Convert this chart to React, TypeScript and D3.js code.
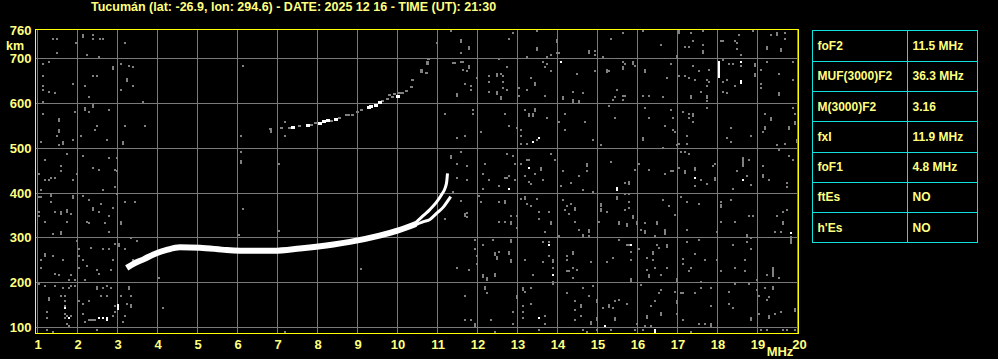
import React from "react";
import * as d3 from "d3";

// ---------- data ----------
const freqTicks = [1, 2, 3, 4, 5, 6, 7, 8, 9, 10, 11, 12, 13, 14, 15, 16, 17, 18, 19, 20];
const heightGrid = [100, 200, 300, 400, 500, 600, 700];
const heightLabels = [760, 700, 600, 500, 400, 300, 200, 100];

const titleText = "Tucumán (lat: -26.9, lon: 294.6) - DATE: 2025 12 16 - TIME (UT): 21:30";

const paramNames = ["foF2", "MUF(3000)F2", "M(3000)F2", "fxI", "foF1", "ftEs", "h'Es"];
const paramValues = ["11.5 MHz", "36.3 MHz", "3.16", "11.9 MHz", "4.8 MHz", "NO", "NO"];

// main F trace (MHz, km)
const mainTrace: [number, number][] = [
  [3.23, 233], [3.4, 242], [3.65, 252], [3.9, 263], [4.23, 273], [4.56, 279], [5.06, 278],
  [5.73, 273], [6.31, 271], [6.9, 271], [7.56, 276], [8.4, 285], [8.81, 291], [9.55, 305],
  [10.0, 316], [10.46, 331],
];
const oTrace: [number, number][] = [
  [10.4, 329], [10.65, 350], [10.81, 363], [10.98, 380], [11.1, 396], [11.19, 411], [11.23, 425], [11.25, 444],
];
const xTrace: [number, number][] = [
  [10.4, 327], [10.65, 336], [10.81, 341], [10.98, 355], [11.15, 369], [11.27, 384], [11.33, 392],
];

// multi-hop trace echoes
const upperGray: number[][] = [
  [6.82, 543], [7.09, 546], [7.3, 546], [7.55, 550], [7.84, 552], [7.96, 555], [8.34, 561], [8.55, 567],
  [8.72, 574], [8.78, 574], [8.88, 575], [9.0, 581], [9.09, 584], [9.63, 605], [9.75, 610], [9.8, 619],
  [9.88, 613], [9.92, 621], [10.05, 623], [10.13, 622], [10.23, 628], [10.34, 636], [10.38, 651],
  [10.59, 671, 9], [10.74, 689, 9], [10.73, 668], [10.78, 699],
];
const upperWhite: number[][] = [
  [7.38, 546], [7.75, 552], [8.05, 556], [8.15, 559], [8.25, 561], [8.46, 565], [9.28, 590], [9.34, 593],
  [9.45, 596], [9.55, 602], [10.0, 616],
];

// scattered echoes (MHz, km, optional span km)
const noiseGray: number[][] = [
  [1.38, 743], [1.48, 743], [2.13, 750, 9], [2.38, 752], [2.38, 743], [2.55, 743], [2.63, 743], [1.95, 735], [3.18, 735], [1.48, 712], [2.23, 708], [2.53, 703],
  [1.13, 688], [1.28, 693], [1.13, 662], [1.13, 639], [1.13, 630], [1.28, 626], [1.43, 622], [1.13, 604], [1.88, 644], [2.18, 639], [2.38, 662], [2.48, 662], [2.28, 613], [2.88, 678, 9], [3.08, 688], [3.28, 684], [3.38, 680], [3.23, 651, 9], [3.38, 639], [3.08, 630], [3.63, 604],
  [1.13, 577], [1.53, 562, 9], [1.53, 539, 9], [1.48, 528], [1.63, 512, 9], [1.53, 506], [1.08, 514], [1.93, 581], [1.88, 519], [2.08, 528], [2.18, 588, 9], [2.28, 581], [2.38, 593, 9], [2.48, 550], [2.43, 541], [2.78, 586], [2.73, 519], [3.18, 550], [3.68, 550], [3.13, 512, 9],
  [1.18, 474], [1.73, 488], [1.58, 461], [1.58, 448], [1.43, 434], [1.33, 434], [1.18, 430], [1.28, 430], [1.03, 443], [1.08, 407], [1.88, 430], [1.98, 443], [2.13, 483], [2.38, 456], [2.53, 452], [2.78, 479], [2.98, 479], [2.93, 452], [2.98, 448], [2.63, 407], [2.93, 413],
  [1.33, 396, 9], [1.03, 390], [1.08, 390], [1.33, 381], [1.03, 358], [1.03, 349], [1.18, 336], [1.43, 358], [1.58, 356, 9], [1.73, 360, 9], [1.83, 354], [1.73, 336], [1.38, 309], [1.58, 311, 9], [1.88, 392, 9], [2.13, 394], [2.28, 385], [2.38, 365, 9], [2.58, 376], [2.53, 358], [2.88, 367], [2.78, 349], [2.23, 336], [2.28, 332], [2.68, 332], [2.78, 314], [2.98, 398], [3.08, 334, 9], [3.18, 379], [3.43, 381], [3.33, 300], [3.48, 294],
  [1.18, 262, 9], [1.08, 251], [1.38, 260], [1.63, 251], [1.08, 233], [1.43, 220], [1.53, 216], [1.83, 216], [1.78, 207], [1.93, 207], [2.03, 274], [2.03, 260], [2.13, 251], [2.03, 233], [2.23, 238], [2.18, 207], [2.33, 278], [2.48, 229], [2.53, 220], [2.63, 274], [2.78, 274], [2.83, 229], [2.88, 251], [2.93, 287], [3.03, 285, 9], [3.18, 274], [3.38, 251], [4.03, 211], [1.98, 293],
  [1.03, 198], [1.18, 193], [1.43, 193], [1.63, 189], [1.58, 171], [1.68, 171], [1.78, 189], [1.83, 193], [1.93, 193], [1.28, 164, 9], [1.68, 158], [1.68, 149], [1.23, 135], [1.68, 131], [1.73, 126], [1.68, 122], [1.23, 122], [1.73, 108], [1.78, 104], [1.83, 126], [2.03, 158], [2.13, 153], [2.13, 131], [2.28, 158], [2.48, 187, 9], [2.63, 189], [2.73, 193], [2.58, 171], [2.73, 171], [2.83, 189], [2.93, 149], [2.93, 135], [2.88, 126], [2.18, 113], [2.48, 95], [3.08, 171], [3.28, 187, 9], [3.33, 171], [3.23, 153], [3.33, 147, 9], [3.18, 126], [3.13, 113], [4.13, 144], [1.23, 95], [1.38, 91],
  [2.28, 117], [2.33, 117], [2.38, 117], [2.43, 117],
  [6.13, 684], [6.08, 528], [6.08, 492], [6.08, 470, 9], [7.03, 465], [6.13, 364], [6.03, 306], [7.03, 316], [9.08, 231], [7.18, 91], [10.98, 735], [6.83, 539, 9], [7.18, 559], [7.18, 528],
  [11.58, 383], [11.73, 355], [11.73, 346], [11.19, 343],
  [11.33, 761], [11.58, 738, 9], [11.78, 724, 9], [11.58, 712], [12.88, 757], [12.78, 743], [13.48, 761], [13.48, 722, 9], [13.98, 738, 9], [13.98, 712], [14.03, 712], [13.83, 708], [13.73, 703], [13.23, 703], [12.53, 699], [14.78, 715, 9], [14.93, 717], [14.93, 708], [15.13, 703], [15.33, 743],
  [11.38, 691], [11.43, 691], [11.58, 693], [11.63, 693], [11.78, 681, 9], [11.63, 675], [11.73, 671], [11.98, 657], [11.68, 644], [11.83, 639], [11.83, 630], [11.48, 618, 9], [12.28, 662], [12.48, 664, 9], [12.58, 666], [12.63, 662], [12.73, 680], [12.63, 648], [12.28, 648], [12.28, 626], [12.48, 624, 9], [12.58, 612, 9], [12.63, 635], [12.73, 630], [13.03, 635], [13.03, 617], [13.33, 657], [13.43, 642, 9], [13.23, 630], [13.68, 617], [13.63, 693], [13.73, 688], [13.68, 680], [13.83, 671], [14.48, 666], [14.38, 626], [14.63, 622], [14.13, 611, 9], [14.38, 606, 9], [14.53, 604, 9], [14.93, 671], [15.23, 673, 9], [15.28, 671], [15.48, 630], [15.43, 613], [15.38, 608],
  [11.18, 577], [11.88, 586], [11.88, 577], [11.48, 523], [11.68, 528], [12.08, 537], [12.68, 577], [12.78, 550], [12.98, 546], [13.08, 541], [13.08, 528], [13.08, 510], [13.18, 586], [13.28, 575, 9], [13.38, 575, 9], [13.43, 584, 9], [13.73, 568], [13.23, 510], [13.48, 519], [14.03, 559], [14.18, 577], [14.18, 541], [14.68, 559], [14.88, 519], [15.28, 595], [15.43, 568], [15.08, 506],
  [11.33, 481, 9], [11.58, 492], [11.48, 465], [11.73, 461], [11.48, 434], [11.73, 428], [11.38, 403], [12.18, 465], [12.13, 443], [12.28, 430], [12.73, 488], [12.88, 483], [12.93, 465], [12.78, 439], [12.68, 434], [12.73, 434], [12.53, 416], [12.13, 409], [12.93, 430], [13.23, 474], [13.28, 474], [13.08, 465], [13.18, 439], [13.43, 443], [13.58, 454, 9], [13.28, 425], [13.33, 421], [13.63, 430], [13.83, 488], [13.93, 474], [14.13, 448], [14.33, 422], [14.08, 416], [14.53, 439], [14.73, 463, 9], [14.73, 448], [14.63, 407], [14.88, 403], [15.33, 470],
  [12.03, 394], [12.08, 381], [12.53, 381], [12.68, 379, 9], [13.08, 387], [13.18, 388, 9], [13.23, 376], [13.33, 372], [13.48, 387], [12.98, 349], [12.83, 349], [12.83, 334, 9], [12.53, 336], [12.68, 336], [12.98, 323], [11.68, 354], [11.68, 349], [11.58, 382], [13.53, 358], [13.53, 341], [13.78, 358], [13.83, 334, 9], [13.68, 314], [14.03, 305], [14.13, 385], [14.23, 372], [14.33, 376], [14.43, 365, 9], [14.18, 363], [14.28, 354], [14.43, 336], [14.53, 318], [14.63, 303, 9], [14.78, 316, 9], [14.78, 305], [15.03, 336], [15.08, 374, 9], [15.08, 361, 9], [15.23, 358], [15.53, 334, 9], [15.48, 388, 9],
  [11.93, 296], [11.93, 274], [11.98, 260], [11.98, 242], [11.78, 229], [11.48, 233], [12.13, 283], [12.13, 214, 9], [12.23, 209, 9], [12.38, 296], [12.43, 263, 9], [12.48, 254, 9], [12.53, 269], [12.43, 218, 9], [12.83, 294, 9], [12.78, 267, 9], [12.83, 249, 9], [13.18, 251], [13.38, 216], [13.63, 291], [13.78, 291], [13.78, 260], [13.63, 247], [13.88, 249, 9], [13.88, 233], [13.88, 199, 9], [14.38, 267, 9], [14.23, 260], [14.23, 251], [14.23, 225], [14.28, 225], [14.38, 233], [14.48, 229], [14.38, 211], [14.83, 247], [15.23, 247], [15.38, 256], [15.53, 296],
  [12.18, 187, 9], [12.23, 176], [11.68, 171], [11.93, 106, 9], [11.68, 117], [11.83, 117], [12.33, 117], [12.43, 91], [12.88, 135], [12.88, 108], [12.98, 169, 9], [13.13, 185, 9], [13.18, 180], [13.13, 149], [13.13, 135], [13.13, 122], [13.33, 153], [13.33, 189], [13.68, 126], [13.68, 108], [13.53, 95], [14.23, 176], [14.43, 158], [14.43, 140], [14.43, 117], [14.58, 147, 9], [14.58, 126], [14.63, 189], [14.78, 171], [14.88, 193], [14.98, 160, 9], [14.83, 111, 9], [14.98, 120, 9], [15.13, 144], [15.28, 147, 9], [15.38, 144], [15.43, 158], [15.43, 120, 9], [15.53, 162], [14.73, 91], [14.63, 95], [14.98, 95], [15.33, 95],
  [15.63, 757], [16.13, 761], [16.58, 730], [17.03, 759, 9], [16.98, 704, 9], [17.18, 726], [17.28, 726], [17.38, 739], [17.63, 730], [17.63, 715, 9], [17.33, 757], [17.63, 761], [18.08, 739], [18.13, 739], [18.43, 739], [18.48, 735], [18.53, 752], [18.48, 721], [18.58, 708], [18.88, 761], [19.23, 724, 9], [19.33, 752], [19.48, 755, 9], [19.58, 719, 9], [19.68, 757], [19.68, 743],
  [15.63, 693], [15.68, 688], [15.88, 691, 9], [15.93, 684], [15.63, 678, 9], [16.18, 673, 9], [16.73, 657], [16.83, 688], [16.63, 613], [16.13, 617], [16.28, 617], [15.63, 617], [15.68, 617], [15.63, 608], [17.03, 662], [17.18, 662], [17.28, 657], [17.38, 684], [17.43, 653], [17.53, 671], [17.73, 651], [17.78, 648], [17.73, 639], [17.73, 615, 9], [17.73, 606], [17.33, 613, 9], [17.78, 675], [17.58, 626], [18.13, 697], [18.28, 688], [18.38, 688], [18.58, 684], [18.43, 639], [18.23, 653], [18.13, 648], [18.13, 626], [18.23, 622], [18.93, 686, 9], [18.93, 664, 9], [19.08, 675], [19.08, 644], [19.08, 635], [19.23, 693], [19.53, 666], [19.53, 620, 9], [19.88, 693], [19.88, 653],
  [16.18, 590], [16.28, 568], [16.13, 521, 9], [16.68, 550], [16.83, 586], [16.88, 568], [16.88, 541], [16.93, 537], [16.98, 506], [17.13, 581], [17.28, 577], [17.28, 568], [17.38, 575, 9], [17.38, 559], [17.23, 528], [17.03, 510], [17.23, 510], [17.73, 590], [18.33, 546], [18.23, 523], [18.33, 514], [18.83, 528], [19.18, 577], [19.33, 566, 9], [19.18, 544, 9], [19.13, 537], [19.48, 506], [19.68, 510], [19.78, 544, 9], [19.88, 590], [19.93, 577], [19.93, 557, 9], [19.98, 517, 9],
  [16.03, 465], [15.68, 422], [15.78, 423, 9], [15.93, 452], [16.28, 452], [16.68, 443], [16.83, 448], [16.88, 448], [16.63, 501], [17.08, 492], [17.18, 492], [17.28, 488], [17.03, 456], [17.18, 446, 9], [17.43, 454, 9], [17.58, 430], [17.43, 416], [17.73, 421], [17.93, 465], [17.88, 461], [17.93, 432, 9], [18.48, 448], [18.63, 470, 22], [18.73, 439], [18.83, 418], [18.78, 474], [18.38, 409], [19.13, 461], [19.13, 437, 9], [19.28, 430], [19.53, 497], [19.78, 483], [19.88, 474], [19.73, 422], [19.73, 413],
  [15.68, 398], [15.78, 398], [15.78, 380], [15.78, 367], [15.68, 363], [15.88, 347, 9], [15.73, 328, 9], [15.98, 334, 9], [16.08, 318], [16.18, 334], [16.18, 312, 9], [16.48, 332, 9], [16.43, 305], [16.68, 313, 13], [16.63, 385], [16.78, 370], [16.93, 352], [17.08, 390], [17.23, 381], [17.53, 376], [17.23, 318], [17.98, 314], [18.08, 381], [18.08, 370, 9], [18.33, 385], [18.08, 336], [18.43, 336], [18.78, 349], [18.88, 349], [18.73, 303, 9], [18.83, 300], [19.48, 349], [19.43, 314], [19.63, 358], [19.58, 314], [19.63, 334, 9], [19.73, 363], [19.83, 295, 18],
  [15.73, 285], [15.78, 285], [15.83, 269], [15.83, 251], [15.83, 205, 9], [16.03, 274], [16.23, 256], [16.23, 229], [16.28, 214, 9], [16.38, 267, 9], [16.38, 251], [16.43, 233], [16.48, 285], [16.53, 278], [16.73, 281, 9], [16.58, 216], [16.73, 233], [16.98, 205, 9], [17.13, 253], [17.13, 242], [17.23, 290], [17.28, 225], [17.33, 233], [17.53, 296], [17.43, 265], [17.68, 251], [17.58, 201], [17.98, 251], [18.08, 225], [18.38, 283], [18.43, 233], [18.68, 225], [18.68, 251], [18.73, 290], [18.83, 274], [18.98, 207], [19.23, 216], [19.38, 225, 22], [19.53, 211],
  [15.73, 153], [16.08, 195], [16.23, 124, 9], [16.33, 149], [16.43, 158], [16.58, 184], [16.58, 129, 9], [16.53, 176], [16.93, 180], [16.98, 156, 9], [16.98, 131], [17.08, 176], [17.13, 176], [17.13, 117], [17.43, 176], [17.58, 189], [17.68, 108], [17.83, 189], [17.83, 149], [17.83, 106, 9], [18.28, 180], [18.28, 153], [18.38, 144], [18.43, 196], [18.78, 196], [18.83, 120, 9], [18.98, 184], [19.03, 171], [19.03, 131], [19.18, 189], [19.23, 162], [19.28, 167], [19.28, 124, 9], [19.38, 187, 9], [19.43, 131], [19.58, 135], [19.93, 138, 9], [15.98, 108], [16.18, 104], [16.33, 104], [15.93, 95], [16.13, 95], [17.33, 91], [17.53, 108], [19.08, 95], [19.23, 95], [19.63, 95], [19.73, 95], [19.93, 95],
];
const noiseWhite: number[][] = [
  [18.03, 674, 39], [18.58, 693], [18.58, 648, 9], [14.08, 693], [13.38, 513], [13.53, 523], [13.28, 456], [12.78, 409],
  [15.48, 409, 9], [13.78, 283], [13.88, 216], [13.53, 122], [15.18, 104], [17.43, 434], [18.63, 430], [19.83, 311],
  [15.83, 285], [16.43, 92, 9], [1.68, 144], [1.78, 122], [2.53, 122], [2.63, 122], [2.73, 120, 9], [3.01, 146, 13],
];

// ---------- layout ----------
const W = 998;
const H = 359;
const FRAME = { left: 35.5, top: 29.5, right: 798.5, bottom: 333.5 };
const TABLE = { left: 812.5, mid: 907.5, right: 977.5, top: 30.5, row: 30.25 };
const YELLOW = "#ffff00";
const TEXT = "#ffff80";
const GRID = "#7a7a7a";
const CYAN = "#10e0e0";
const FONT = "'Liberation Sans', Arial, sans-serif";

const xs = d3.scaleLinear().domain([1, 20]).range([37.5, 797.5]);
const ys = d3.scaleLinear().domain([100, 700]).range([327.5, 58.5]);

function Dots({ data, fill, w, defSpan }: { data: number[][]; fill: string; w: number; defSpan: number }) {
  return (
    <g fill={fill} shapeRendering="crispEdges">
      {data.map((d, i) => {
        const span = d[2] ?? defSpan;
        const y0 = ys(d[1] + span / 2);
        const y1 = ys(d[1] - span / 2);
        return <rect key={i} x={Math.round(xs(d[0]) - w / 2)} y={Math.round(y0)} width={w} height={Math.max(2, Math.round(y1 - y0))} />;
      })}
    </g>
  );
}

export default function App() {
  const line = d3
    .line<[number, number]>()
    .x((d) => xs(d[0]))
    .y((d) => ys(d[1]))
    .curve(d3.curveMonotoneX);

  return (
    <svg
      width={W}
      height={H}
      style={{ position: "absolute", left: 0, top: 0, background: "#000", display: "block" }}
      fontFamily={FONT}
      fontWeight="bold"
    >
      <rect x={0} y={0} width={W} height={H} fill="#000" />
      <text x={91} y={10.5} fill={TEXT} fontSize={12.5}>
        {titleText}
      </text>

      {/* grid */}
      <g stroke={GRID} strokeWidth={1} shapeRendering="crispEdges">
        {freqTicks.map((f) => (
          <line key={"v" + f} x1={xs(f)} x2={xs(f)} y1={FRAME.top} y2={FRAME.bottom} />
        ))}
        {heightGrid.map((h) => (
          <line key={"h" + h} x1={FRAME.left} x2={FRAME.right} y1={ys(h)} y2={ys(h)} />
        ))}
      </g>

      {/* echoes */}
      <Dots data={noiseGray} fill="#808080" w={2} defSpan={4.5} />
      <Dots data={noiseWhite} fill="#ffffff" w={2} defSpan={4.5} />
      <Dots data={upperGray} fill="#808080" w={3} defSpan={4.5} />
      <Dots data={upperWhite} fill="#ffffff" w={4} defSpan={6} />

      <path d={line(mainTrace) ?? ""} fill="none" stroke="#fff" strokeWidth={6} />
      <path d={line(oTrace) ?? ""} fill="none" stroke="#fff" strokeWidth={3} />
      <path d={line(xTrace) ?? ""} fill="none" stroke="#fff" strokeWidth={3} />

      {/* frame */}
      <rect
        x={FRAME.left}
        y={FRAME.top}
        width={FRAME.right - FRAME.left}
        height={FRAME.bottom - FRAME.top}
        fill="none"
        stroke={YELLOW}
        strokeWidth={1}
        shapeRendering="crispEdges"
      />

      {/* x labels */}
      <g fill={TEXT} fontSize={13} textAnchor="middle">
        {freqTicks.map((f) => (
          <text key={"xl" + f} x={xs(f) + (f === 20 ? 2 : 0.5)} y={349}>
            {f}
          </text>
        ))}
        <text x={780} y={356}>
          MHz
        </text>
      </g>

      {/* y labels */}
      <g fill={TEXT} fontSize={13} textAnchor="end">
        {heightLabels.map((h) => (
          <text key={"yl" + h} x={31.5} y={h === 760 ? 35 : ys(h) + 4.6}>
            {h}
          </text>
        ))}
      </g>
      <text x={6} y={50} fill={TEXT} fontSize={12.5}>
        km
      </text>

      {/* parameter table */}
      <g stroke={CYAN} strokeWidth={1} shapeRendering="crispEdges" fill="none">
        <rect
          x={TABLE.left}
          y={TABLE.top}
          width={TABLE.right - TABLE.left}
          height={TABLE.row * paramNames.length}
        />
        <line x1={TABLE.mid} x2={TABLE.mid} y1={TABLE.top} y2={TABLE.top + TABLE.row * paramNames.length} />
        {paramNames.slice(1).map((_, i) => (
          <line
            key={"r" + i}
            x1={TABLE.left}
            x2={TABLE.right}
            y1={Math.round(TABLE.top + TABLE.row * (i + 1)) + 0.5}
            y2={Math.round(TABLE.top + TABLE.row * (i + 1)) + 0.5}
          />
        ))}
      </g>
      <g fill={TEXT} fontSize={12}>
        {paramNames.map((n, i) => (
          <text key={"pn" + i} x={817.5} y={TABLE.top + TABLE.row * (i + 0.5) + 4.5}>
            {n}
          </text>
        ))}
        {paramValues.map((v, i) => (
          <text key={"pv" + i} x={912.5} y={TABLE.top + TABLE.row * (i + 0.5) + 4.5}>
            {v}
          </text>
        ))}
      </g>
    </svg>
  );
}
